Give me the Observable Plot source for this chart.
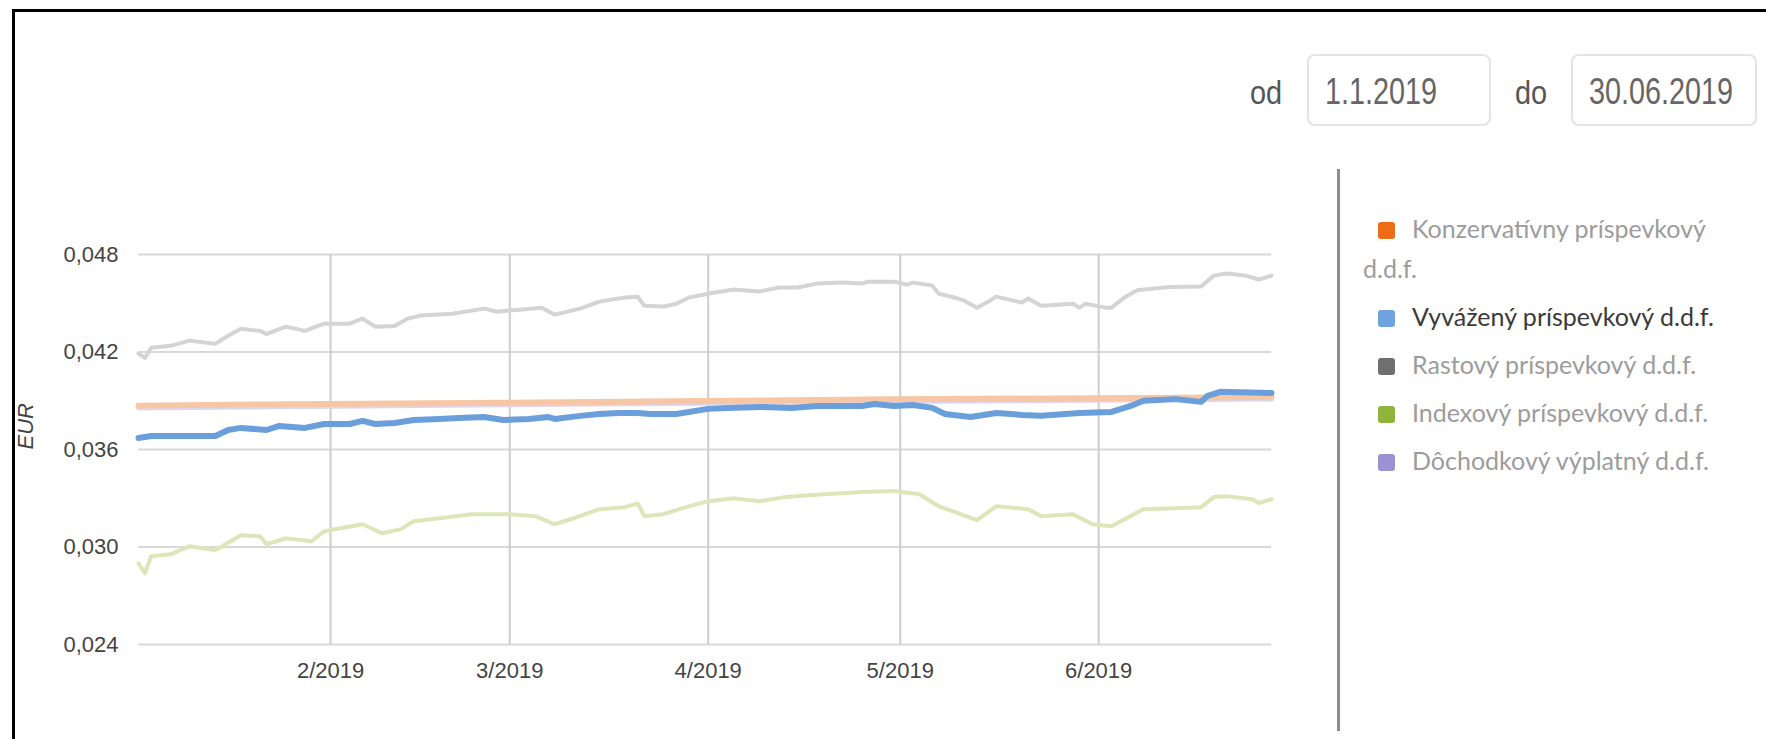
<!DOCTYPE html>
<html>
<head>
<meta charset="utf-8">
<script src="https://cdn.jsdelivr.net/npm/d3@7"></script>
<script src="https://cdn.jsdelivr.net/npm/@observablehq/plot@0.6"></script>
<style>
  html, body { margin: 0; padding: 0; background: #fff; }
  #page { position: relative; width: 1766px; height: 739px; overflow: hidden; background: #fff; }
  .bt { position: absolute; left: 12px; top: 9px; width: 1754px; height: 3px; background: #000; }
  .bl { position: absolute; left: 12px; top: 9px; width: 3px; height: 730px; background: #000; }
  #chart { position: absolute; left: 0; top: 0; }
  .lbl { position: absolute; font-family: "Liberation Sans", Arial, sans-serif; font-size: 34px; color: #555; top: 72px; line-height: 40px; }
  .box { position: absolute; top: 54px; height: 72px; border: 2px solid #e4e4e4; border-radius: 8px; box-sizing: border-box; }
  .box span { position: absolute; left: 16px; top: 16px; font-family: "Liberation Sans", Arial, sans-serif; font-size: 36px; line-height: 40px; color: #666; display: inline-block; transform: scaleX(0.8); transform-origin: left center; white-space: nowrap; }
  .lbl span { display: inline-block; transform: scaleX(0.85); transform-origin: left center; }
  .divider { position: absolute; left: 1337px; top: 169px; width: 3px; height: 562px; background: #8c8c8c; }
  #legend { position: absolute; left: 1363px; top: 208px; width: 380px; font-family: Lato, "Open Sans", sans-serif; font-size: 25px; line-height: 40px; color: #9c9c9c; }
  .item { margin-bottom: 8px; }
  .sw { display: inline-block; width: 17px; height: 17px; border-radius: 3px; margin-left: 15px; margin-right: 17px; vertical-align: -1px; }
  .active { color: #3a3a3a; }
</style>
</head>
<body>
<div id="page">
  <div class="bt"></div>
  <div class="bl"></div>
  <div id="chart"></div>
  <div class="lbl" style="left:1250px"><span>od</span></div>
  <div class="box" style="left:1307px; width:184px"><span>1.1.2019</span></div>
  <div class="lbl" style="left:1515px"><span>do</span></div>
  <div class="box" style="left:1571px; width:186px"><span>30.06.2019</span></div>
  <div class="divider"></div>
  <div id="legend"></div>
</div>
<script>
// ---- data ----
const seriesNames = [
  "Konzervatívny príspevkový d.d.f.",
  "Vyvážený príspevkový d.d.f.",
  "Rastový príspevkový d.d.f.",
  "Indexový príspevkový d.d.f.",
  "Dôchodkový výplatný d.d.f."
];
const legendColors = ["#ef6c17", "#6ea3df", "#6f6f6f", "#8fb33b", "#9c92d3"];

const yTickValues = [0.024, 0.030, 0.036, 0.042, 0.048];
const xTickDates = ["2019-02-01", "2019-03-01", "2019-04-01", "2019-05-01", "2019-06-01"];

const rastovy = [
  ["2019-01-02",0.04190],["2019-01-03",0.04164],["2019-01-04",0.04226],["2019-01-07",0.04238],
  ["2019-01-10",0.04270],["2019-01-14",0.04250],["2019-01-16",0.04300],["2019-01-18",0.04343],
  ["2019-01-21",0.04330],["2019-01-22",0.04310],["2019-01-25",0.04356],["2019-01-28",0.04330],
  ["2019-01-31",0.04374],["2019-02-04",0.04374],["2019-02-06",0.04405],["2019-02-08",0.04356],
  ["2019-02-11",0.04360],["2019-02-13",0.04405],["2019-02-15",0.04424],["2019-02-20",0.04436],
  ["2019-02-25",0.04467],["2019-02-27",0.04448],["2019-03-06",0.04473],["2019-03-08",0.04430],
  ["2019-03-12",0.04467],["2019-03-15",0.04510],["2019-03-19",0.04535],["2019-03-21",0.04540],
  ["2019-03-22",0.04485],["2019-03-25",0.04480],["2019-03-27",0.04497],["2019-03-29",0.04535],
  ["2019-04-02",0.04566],["2019-04-05",0.04584],["2019-04-09",0.04572],["2019-04-12",0.04597],
  ["2019-04-15",0.04597],["2019-04-18",0.04621],["2019-04-22",0.04627],["2019-04-25",0.04621],
  ["2019-04-26",0.04633],["2019-04-30",0.04633],["2019-05-02",0.04615],["2019-05-03",0.04627],
  ["2019-05-06",0.04609],["2019-05-07",0.04560],["2019-05-10",0.04529],["2019-05-11",0.04516],
  ["2019-05-13",0.04473],["2019-05-15",0.04516],["2019-05-16",0.04541],["2019-05-20",0.04504],
  ["2019-05-21",0.04529],["2019-05-23",0.04485],["2019-05-28",0.04497],["2019-05-29",0.04473],
  ["2019-05-30",0.04497],["2019-06-02",0.04473],["2019-06-03",0.04473],["2019-06-05",0.04535],
  ["2019-06-07",0.04580],["2019-06-12",0.04600],["2019-06-17",0.04603],["2019-06-19",0.04670],
  ["2019-06-21",0.04683],["2019-06-24",0.04670],["2019-06-26",0.04646],["2019-06-28",0.04670]
];

const vyvazeny = [
  ["2019-01-02",0.03671],["2019-01-04",0.03683],["2019-01-14",0.03683],["2019-01-16",0.03720],
  ["2019-01-18",0.03733],["2019-01-22",0.03720],["2019-01-24",0.03745],["2019-01-28",0.03733],
  ["2019-01-31",0.03757],["2019-02-04",0.03757],["2019-02-06",0.03776],["2019-02-08",0.03757],
  ["2019-02-11",0.03763],["2019-02-14",0.03782],["2019-02-18",0.03788],["2019-02-21",0.03794],
  ["2019-02-25",0.03800],["2019-02-28",0.03782],["2019-03-04",0.03788],["2019-03-07",0.03800],
  ["2019-03-08",0.03788],["2019-03-12",0.03807],["2019-03-15",0.03819],["2019-03-18",0.03825],
  ["2019-03-21",0.03825],["2019-03-23",0.03819],["2019-03-27",0.03819],["2019-04-01",0.03850],
  ["2019-04-04",0.03856],["2019-04-09",0.03862],["2019-04-14",0.03856],["2019-04-18",0.03868],
  ["2019-04-25",0.03868],["2019-04-27",0.03880],["2019-04-30",0.03868],["2019-05-03",0.03874],
  ["2019-05-06",0.03856],["2019-05-08",0.03819],["2019-05-12",0.03800],["2019-05-16",0.03825],
  ["2019-05-20",0.03813],["2019-05-23",0.03807],["2019-05-29",0.03825],["2019-06-03",0.03831],
  ["2019-06-06",0.03868],["2019-06-08",0.03900],["2019-06-13",0.03910],["2019-06-17",0.03893],
  ["2019-06-18",0.03930],["2019-06-20",0.03955],["2019-06-28",0.03948]
];

const indexovy = [
  ["2019-01-02",0.02900],["2019-01-03",0.02838],["2019-01-04",0.02943],["2019-01-07",0.02955],
  ["2019-01-10",0.03005],["2019-01-14",0.02980],["2019-01-18",0.03072],["2019-01-21",0.03066],
  ["2019-01-22",0.03017],["2019-01-25",0.03054],["2019-01-29",0.03035],["2019-01-31",0.03097],
  ["2019-02-06",0.03140],["2019-02-09",0.03085],["2019-02-12",0.03110],["2019-02-14",0.03159],
  ["2019-02-18",0.03177],["2019-02-23",0.03202],["2019-03-01",0.03202],["2019-03-05",0.03190],
  ["2019-03-08",0.03140],["2019-03-11",0.03177],["2019-03-15",0.03233],["2019-03-19",0.03245],
  ["2019-03-21",0.03268],["2019-03-22",0.03190],["2019-03-25",0.03202],["2019-03-28",0.03239],
  ["2019-04-01",0.03282],["2019-04-05",0.03300],["2019-04-09",0.03282],["2019-04-13",0.03307],
  ["2019-04-19",0.03325],["2019-04-25",0.03338],["2019-04-30",0.03344],["2019-05-04",0.03325],
  ["2019-05-07",0.03251],["2019-05-10",0.03208],["2019-05-13",0.03165],["2019-05-16",0.03251],
  ["2019-05-21",0.03233],["2019-05-23",0.03190],["2019-05-28",0.03202],["2019-05-31",0.03140],
  ["2019-06-03",0.03128],["2019-06-08",0.03233],["2019-06-13",0.03239],["2019-06-17",0.03245],
  ["2019-06-19",0.03307],["2019-06-21",0.03313],["2019-06-25",0.03294],["2019-06-26",0.03270],
  ["2019-06-28",0.03294]
];

const konzervativny = [
  ["2019-01-02",0.03870],["2019-01-31",0.03880],["2019-02-28",0.03888],["2019-03-31",0.03898],
  ["2019-04-30",0.03910],["2019-05-31",0.03915],["2019-06-14",0.03918],["2019-06-28",0.03925]
];

const dochodkovy = [
  ["2019-01-02",0.03855],["2019-02-28",0.03875],["2019-04-30",0.03895],["2019-06-28",0.03910]
];

// ---- chart ----
const fmtY = d => d3.format(".3f")(d).replace(".", ",");
const fmtX = d => `${d.getUTCMonth() + 1}/${d.getUTCFullYear()}`;
const xTicks = xTickDates.map(s => new Date(s));
const X = d => new Date(d[0]);
const Y = d => d[1];

const chart = Plot.plot({
  width: 1300,
  height: 700,
  marginTop: 254,
  marginBottom: 56,
  marginLeft: 138,
  marginRight: 29,
  style: { fontFamily: "'Liberation Sans', Arial, sans-serif", fontSize: "22px", color: "#444", background: "transparent", overflow: "visible" },
  x: { type: "utc", domain: [new Date("2019-01-02"), new Date("2019-06-28")] },
  y: { domain: [0.024, 0.048] },
  marks: [
    Plot.gridY(yTickValues, { stroke: "#d8d8d8", strokeOpacity: 1, strokeWidth: 2 }),
    Plot.gridX(xTicks, { stroke: "#cdcdcd", strokeOpacity: 1, strokeWidth: 2 }),
    Plot.axisY(yTickValues, { tickSize: 0, tickPadding: 20, tickFormat: fmtY, label: null, fill: "#444" }),
    Plot.axisX(xTicks, { tickSize: 0, tickPadding: 18, tickFormat: fmtX, label: null, fill: "#444" }),
    Plot.text(["EUR"], { frameAnchor: "left", dx: -113, rotate: -90, fontStyle: "italic", fontSize: 22, fill: "#444", text: d => d }),
    Plot.line(rastovy, { x: X, y: Y, stroke: "#d4d4d4", strokeWidth: 4 }),
    Plot.line(indexovy, { x: X, y: Y, stroke: "#dce6b9", strokeWidth: 4 }),
    Plot.line(dochodkovy, { x: X, y: Y, stroke: "#ddd6f1", strokeWidth: 5 }),
    Plot.line(konzervativny, { x: X, y: Y, stroke: "#f7c7a5", strokeWidth: 6 }),
    Plot.line(vyvazeny, { x: X, y: Y, stroke: "#6b9fdb", strokeWidth: 6 })
  ]
});
document.getElementById("chart").appendChild(chart);

// ---- legend ----
const legend = document.getElementById("legend");
seriesNames.forEach((name, i) => {
  const div = document.createElement("div");
  div.className = "item" + (i === 1 ? " active" : "");
  const sw = document.createElement("span");
  sw.className = "sw";
  sw.style.background = legendColors[i];
  div.appendChild(sw);
  div.appendChild(document.createTextNode(name));
  legend.appendChild(div);
});
</script>
</body>
</html>
